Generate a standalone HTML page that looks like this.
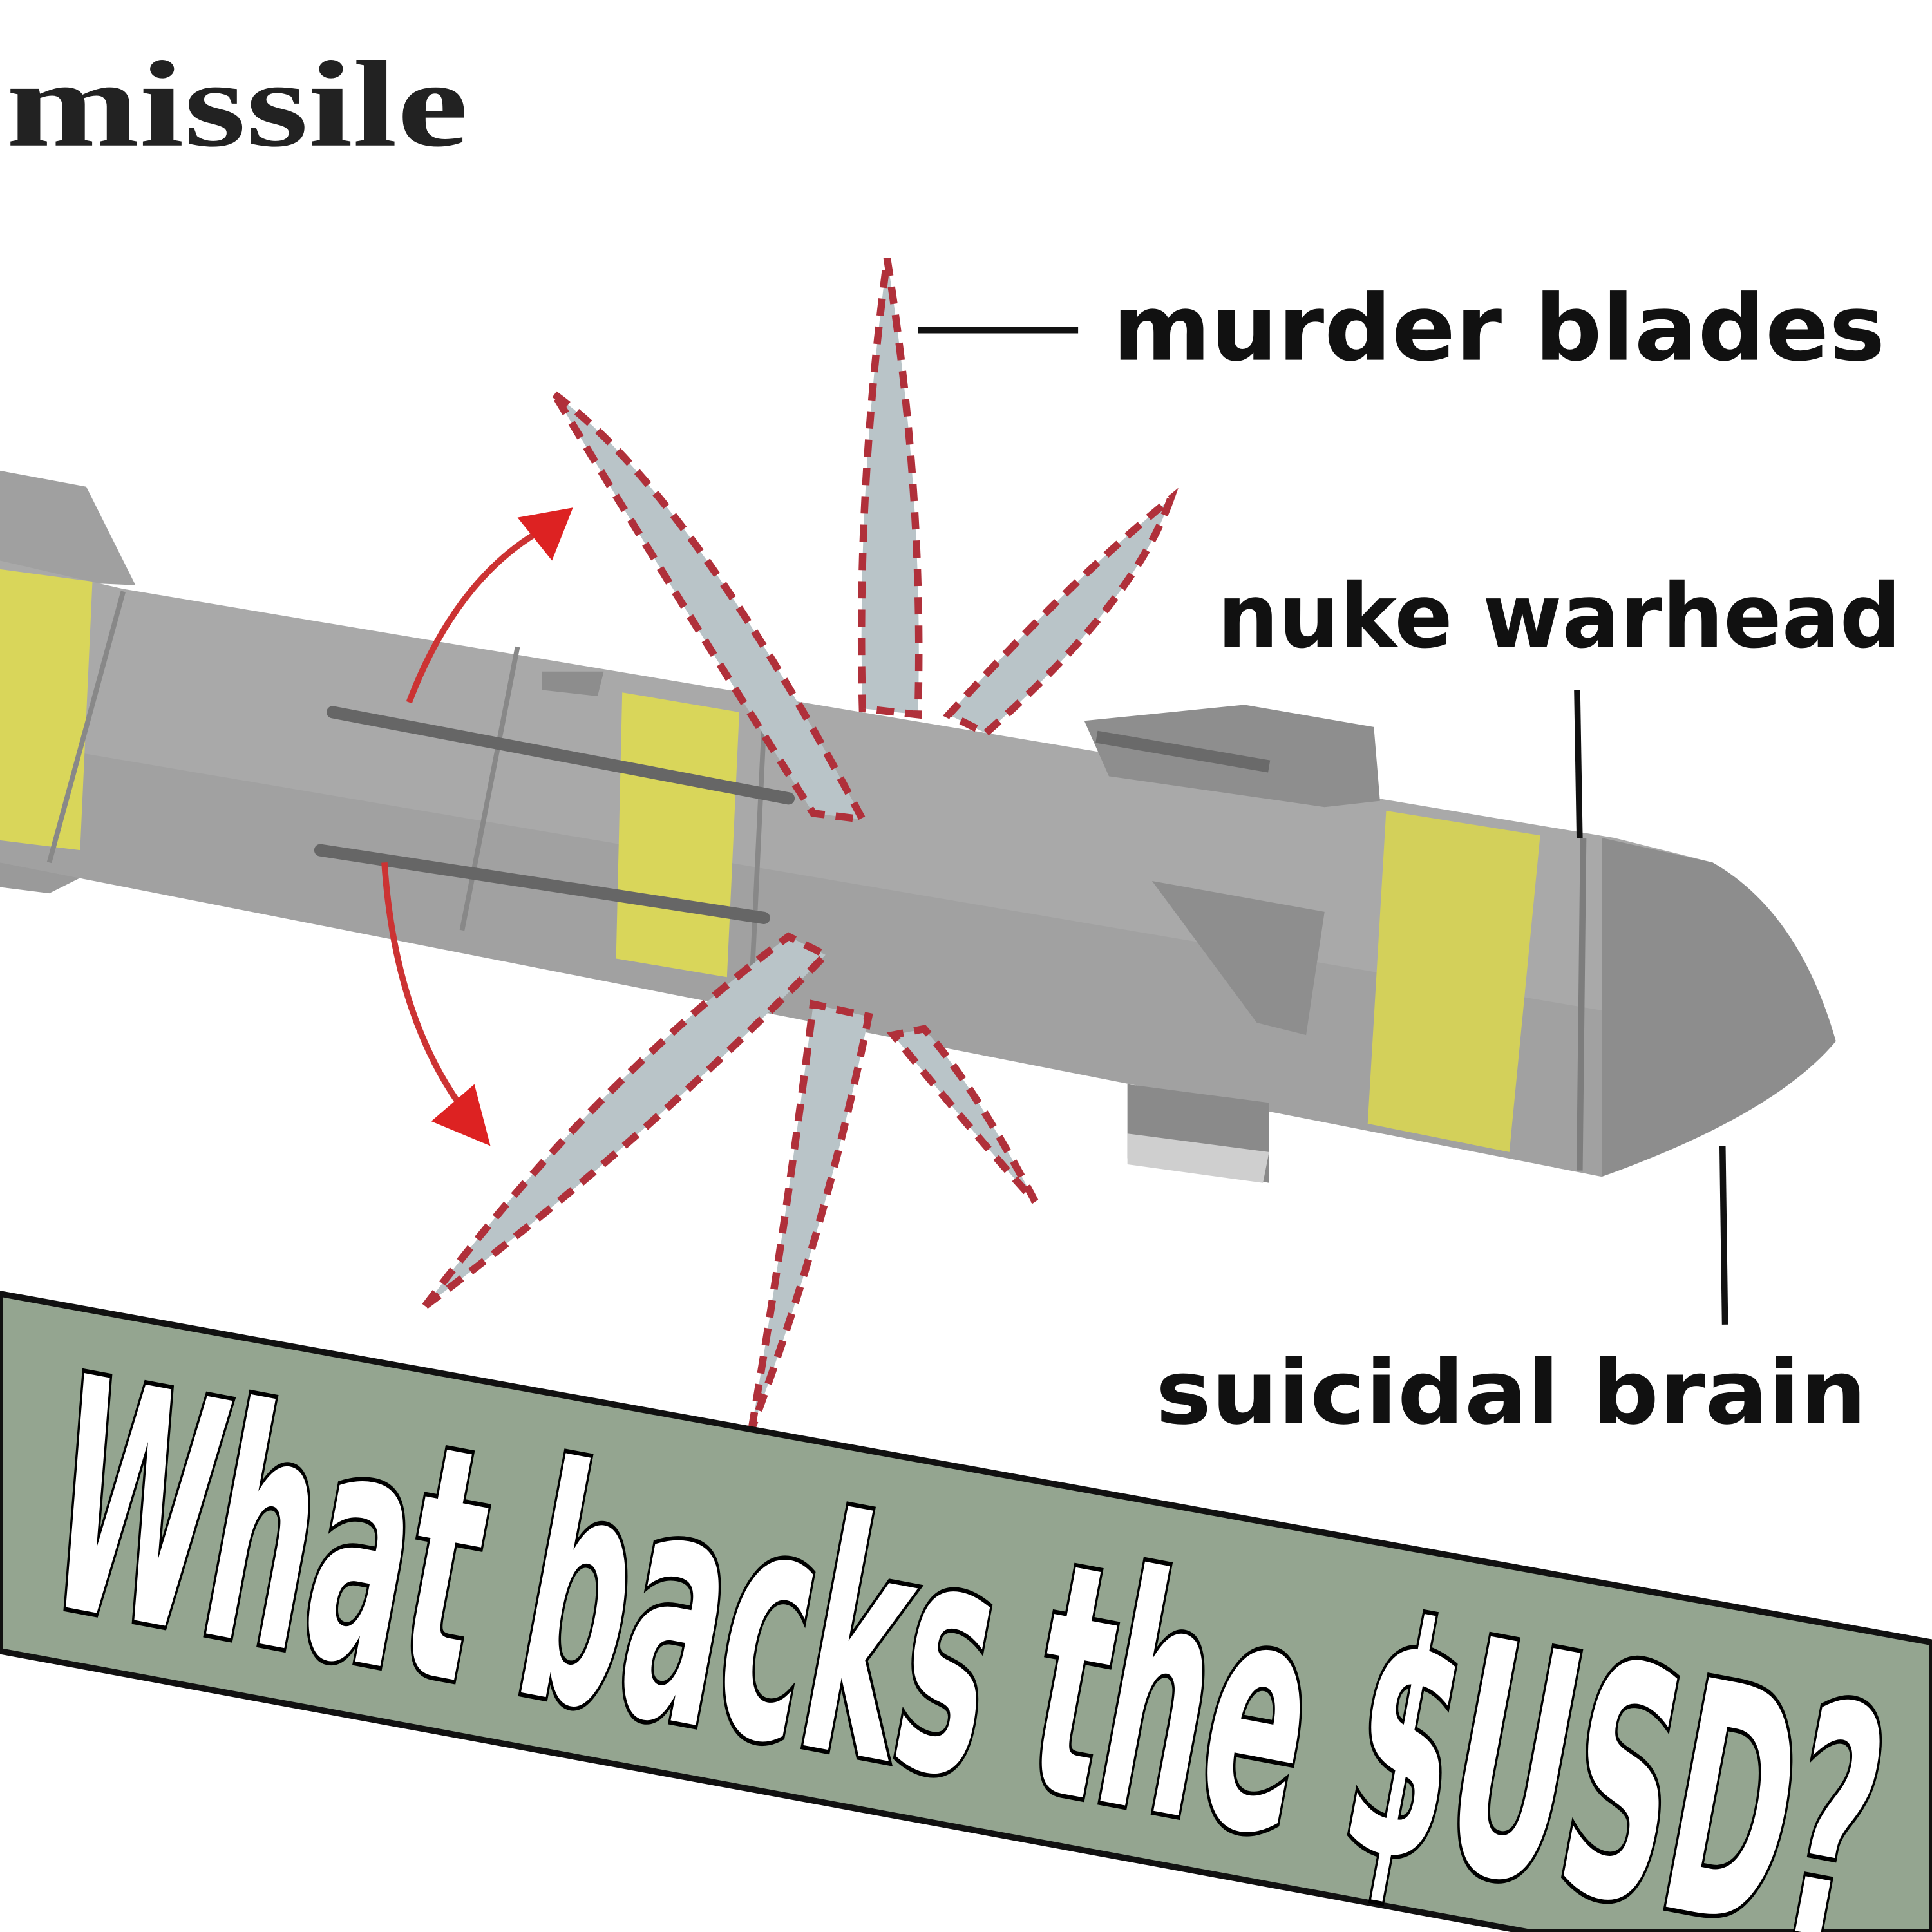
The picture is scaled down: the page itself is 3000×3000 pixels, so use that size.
<!DOCTYPE html>
<html><head><meta charset="utf-8"><style>
html,body{margin:0;padding:0;background:#fff;}
svg{display:block;}
</style></head><body>
<svg width="3000" height="3000" viewBox="0 0 1568 1568" xmlns="http://www.w3.org/2000/svg">
<rect width="1568" height="1568" fill="#fff"/>
<text x="5" y="118" font-family="Liberation Serif, serif" font-weight="bold" font-size="100" fill="#222" textLength="375" lengthAdjust="spacingAndGlyphs">missile</text>

<!-- rear section -->
<polygon points="0,382 70,395 110,475 0,470" fill="#a0a0a0"/>
<polygon points="0,690 90,700 40,725 0,720" fill="#9a9a9a"/>
<!-- main body -->
<polygon points="0,455 100,478 1310,680 1390,700 1300,955 0,700" fill="#a9a9a9"/>
<polygon points="0,600 1300,820 1300,955 0,700" fill="#9c9c9c" opacity="0.6"/>
<!-- nose -->
<path d="M1300,680 L1390,700 Q1460,740 1490,845 Q1440,905 1300,955 Z" fill="#8d8d8d"/>
<line x1="1285" y1="680" x2="1282" y2="950" stroke="#7d7d7d" stroke-width="5"/>
<!-- yellow bands -->
<polygon points="0,462 75,472 65,690 0,682" fill="#d9d65a"/>
<polygon points="505,562 600,578 590,793 500,778" fill="#d9d65a"/>
<polygon points="1125,658 1250,678 1225,935 1110,912" fill="#d3d05a"/>
<!-- seams -->
<line x1="100" y1="480" x2="40" y2="700" stroke="#888" stroke-width="4"/>
<line x1="420" y1="525" x2="375" y2="755" stroke="#888" stroke-width="4"/>
<line x1="620" y1="590" x2="610" y2="800" stroke="#888" stroke-width="4"/>
<!-- fins -->
<polygon points="880,585 1010,572 1115,590 1120,650 1075,655 900,630" fill="#8e8e8e"/>
<line x1="890" y1="598" x2="1030" y2="622" stroke="#6a6a6a" stroke-width="10"/>
<polygon points="935,715 1075,740 1060,840 1020,830" fill="#8e8e8e"/>
<polygon points="915,880 1030,895 1030,960 915,940" fill="#8a8a8a"/>
<polygon points="915,920 1030,935 1025,960 915,945" fill="#cfcfcf"/>
<polygon points="440,545 490,545 485,565 440,560" fill="#8d8d8d"/>
<!-- dark rails -->
<line x1="270" y1="578" x2="640" y2="648" stroke="#666" stroke-width="10" stroke-linecap="round"/>
<line x1="260" y1="690" x2="620" y2="745" stroke="#666" stroke-width="10" stroke-linecap="round"/>

<!-- blades -->
<g fill="#b9c4c8" stroke="#b0303a" stroke-width="6" stroke-dasharray="14,9">
<path d="M720,210 Q750,400 745,580 L700,575 Q695,400 720,210 Z"/>
<path d="M450,320 Q560,400 700,665 L660,660 Q540,470 450,320 Z"/>
<path d="M950,405 Q920,490 800,595 L770,580 Q870,470 950,405 Z"/>
<path d="M345,1060 Q480,880 640,760 L670,775 Q520,930 345,1060 Z"/>
<path d="M610,1160 Q640,980 660,815 L705,825 Q670,1000 610,1160 Z"/>
<path d="M840,975 Q790,880 750,835 L725,840 Q790,920 840,975 Z"/>
</g>

<!-- red arrows -->
<path d="M332,570 Q370,470 440,430" fill="none" stroke="#c33" stroke-width="5"/>
<polygon points="465,412 420,420 448,455" fill="#d22"/>
<path d="M312,700 Q320,820 372,895" fill="none" stroke="#c33" stroke-width="5"/>
<polygon points="398,930 350,910 385,880" fill="#d22"/>

<!-- labels -->
<g font-family="DejaVu Sans, Liberation Sans, sans-serif" font-weight="bold" fill="#111">
<text x="903" y="292" font-size="74" textLength="627" lengthAdjust="spacingAndGlyphs">murder blades</text>
<text x="988" y="525" font-size="72" textLength="555" lengthAdjust="spacingAndGlyphs">nuke warhead</text>
<text x="938" y="1155" font-size="72" textLength="577" lengthAdjust="spacingAndGlyphs">suicidal brain</text>
</g>
<line x1="745" y1="268" x2="875" y2="268" stroke="#111" stroke-width="5"/>
<line x1="1280" y1="560" x2="1282" y2="680" stroke="#111" stroke-width="5"/>
<line x1="1398" y1="930" x2="1400" y2="1075" stroke="#111" stroke-width="5"/>

<!-- banner -->
<polygon points="0,1050 1568,1333 1568,1568 1240,1568 0,1340" fill="#94a590" stroke="#111" stroke-width="5"/>
<text transform="translate(30,1300) rotate(10.6)" font-family="DejaVu Sans Condensed, Liberation Sans Narrow, Liberation Sans, sans-serif" font-weight="bold" font-size="260" fill="#fff" stroke="#000" stroke-width="7" paint-order="stroke" textLength="1500" lengthAdjust="spacingAndGlyphs">What backs the $USD?</text>
</svg>
</body></html>
